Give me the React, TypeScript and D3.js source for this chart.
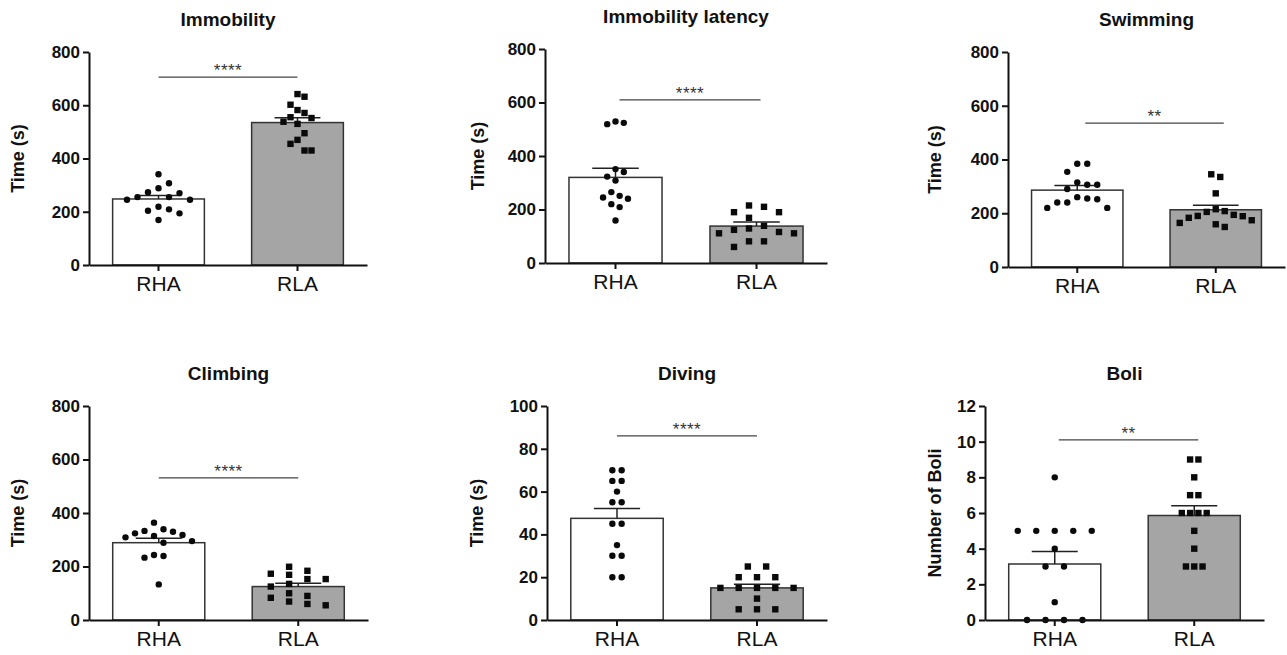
import * as d3 from 'd3';
import { useEffect, useRef } from 'react';

const groups = ['RHA', 'RLA'];

// individual animals
const immobilityRHA = [341, 307, 288, 273, 270, 255, 255, 245, 245, 219, 209, 204, 194, 169];
const immobilityRLA = [642, 632, 602, 582, 571, 555, 552, 538, 530, 495, 470, 455, 430, 430];
const latencyRHA = [529, 524, 519, 351, 340, 323, 308, 265, 251, 245, 240, 220, 209, 159];
const latencyRLA = [215, 210, 190, 190, 169, 139, 129, 124, 116, 111, 111, 81, 81, 60];
const swimmingRHA = [384, 384, 354, 315, 306, 306, 290, 260, 255, 252, 240, 240, 220, 220];
const swimmingRLA = [345, 335, 274, 215, 208, 205, 194, 190, 189, 183, 174, 164, 159, 149];
const climbingRHA = [364, 339, 333, 330, 324, 318, 314, 309, 295, 289, 243, 239, 233, 133];
const climbingRLA = [199, 184, 173, 169, 153, 153, 135, 125, 100, 90, 83, 69, 60, 55];
const divingRHA = [70, 70, 65, 65, 60, 55, 55, 45, 45, 35, 30, 30, 20, 20];
const divingRLA = [25, 25, 20, 20, 20, 15, 15, 15, 15, 15, 10, 5, 5, 5];
const boliRHA = [8, 5, 5, 5, 5, 5, 4, 3, 3, 1, 0, 0, 0, 0];
const boliRLA = [9, 9, 8, 7, 7, 6, 6, 6, 6, 5, 4, 3, 3, 3];

// bar heights (mean) and error bars (SEM), [RHA, RLA]
const immobilityMean = [248, 535];
const immobilitySem = [13, 18];
const latencyMean = [320, 138];
const latencySem = [34, 15];
const swimmingMean = [286, 213];
const swimmingSem = [17, 17];
const climbingMean = [289, 125];
const climbingSem = [17, 12];
const divingMean = [47.5, 15];
const divingSem = [4.6, 1.7];
const boliMean = [3.14, 5.86];
const boliSem = [0.7, 0.55];

const titles = ['Immobility', 'Immobility latency', 'Swimming', 'Climbing', 'Diving', 'Boli'];
const yLabels = ['Time (s)', 'Time (s)', 'Time (s)', 'Time (s)', 'Time (s)', 'Number of Boli'];
const yMaxes = [800, 800, 800, 800, 100, 12];
const yTicks = [
  [0, 200, 400, 600, 800],
  [0, 200, 400, 600, 800],
  [0, 200, 400, 600, 800],
  [0, 200, 400, 600, 800],
  [0, 20, 40, 60, 80, 100],
  [0, 2, 4, 6, 8, 10, 12]
];
const sigLevels = [706, 610, 535, 531, 86, 10.1];
const sigLabels = ['****', '****', '**', '****', '****', '**'];

const points = [
  [immobilityRHA, immobilityRLA],
  [latencyRHA, latencyRLA],
  [swimmingRHA, swimmingRLA],
  [climbingRHA, climbingRLA],
  [divingRHA, divingRLA],
  [boliRHA, boliRLA]
];
const means = [immobilityMean, latencyMean, swimmingMean, climbingMean, divingMean, boliMean];
const sems = [immobilitySem, latencySem, swimmingSem, climbingSem, divingSem, boliSem];

// where each panel sits on the page; spread = column spacing, gap = vertical clearance in a column
const layout = [
  { x: 89, w: 278, top: 52, bottom: 265, labelX: 18, spread: [10.5, 7], gap: [12, 12], sigShift: 0 },
  { x: 545, w: 282, top: 49, bottom: 263, labelX: 478, spread: [8.3, 15], gap: [10, 9], sigShift: 4 },
  { x: 1008, w: 277, top: 52, bottom: 267, labelX: 935, spread: [10, 9], gap: [13, 14], sigShift: 8 },
  { x: 89, w: 279, top: 406, bottom: 620, labelX: 18, spread: [9.5, 18.3], gap: [13, 8], sigShift: 0 },
  { x: 547, w: 280, top: 406, bottom: 620, labelX: 477, spread: [9.3, 18.3], gap: [6.4, 6.4], sigShift: 0 },
  { x: 985, w: 279, top: 406, bottom: 620, labelX: 935, spread: [18.5, 8.3], gap: [6.4, 6.4], sigShift: 4 }
];

const font = "'Liberation Sans', Arial, Helvetica, sans-serif";
const MARK = 6.4;

// GraphPad-like scatter: points close in y share a row, columns picked nearest the centre
function swarm(values: number[], y: d3.ScaleLinear<number, number>, spacing: number, gap: number) {
  const sorted = values.map((v) => ({ v, py: y(v) })).sort((a, b) => a.py - b.py);
  const out: { v: number; py: number; dx: number }[] = [];
  let row: { v: number; py: number }[] = [];
  const flush = () => {
    const placed: { v: number; py: number; col: number }[] = [];
    for (const p of row) {
      for (let k = 0; k < 50; k++) {
        const col = k === 0 ? 0 : k % 2 ? (k + 1) / 2 : -k / 2;
        if (!placed.some((q) => q.col === col && Math.abs(q.py - p.py) < gap)) {
          placed.push({ ...p, col });
          break;
        }
      }
    }
    const mid = ((d3.min(placed, (d) => d.col) as number) + (d3.max(placed, (d) => d.col) as number)) / 2;
    placed.forEach((d) => out.push({ v: d.v, py: d.py, dx: (d.col - mid) * spacing }));
    row = [];
  };
  sorted.forEach((p) => {
    if (row.length && p.py - row[row.length - 1].py >= gap) flush();
    row.push(p);
  });
  if (row.length) flush();
  return out;
}

export default function App() {
  const ref = useRef<SVGSVGElement>(null);

  useEffect(() => {
    const svg = d3.select(ref.current);
    svg.selectAll('*').remove();

    titles.forEach((title, i) => {
      const L = layout[i];
      const g = svg.append('g');

      const x = d3.scaleBand().domain(groups).range([L.x, L.x + L.w]).paddingInner(0.34).paddingOuter(0.17);
      const y = d3.scaleLinear().domain([0, yMaxes[i]]).range([L.bottom, L.top]);
      const cx = (k: string) => (x(k) as number) + x.bandwidth() / 2;

      // title
      g.append('text')
        .attr('x', L.x + L.w / 2)
        .attr('y', L.top - 26)
        .attr('text-anchor', 'middle')
        .style('font', `bold 19px ${font}`)
        .attr('fill', '#111')
        .text(title);

      // y label
      g.append('text')
        .attr('transform', `translate(${L.labelX},${(L.top + L.bottom) / 2}) rotate(-90)`)
        .attr('text-anchor', 'middle')
        .attr('dy', '0.35em')
        .style('font', `bold 18px ${font}`)
        .attr('fill', '#111')
        .text(yLabels[i]);

      // bars
      g.selectAll('.bar')
        .data(groups)
        .join('rect')
        .attr('class', 'bar')
        .attr('x', (d) => x(d) as number)
        .attr('width', x.bandwidth())
        .attr('y', (d, j) => y(means[i][j]))
        .attr('height', (d, j) => y(0) - y(means[i][j]))
        .attr('fill', (d, j) => (j === 0 ? '#ffffff' : '#a5a5a5'))
        .attr('stroke', '#333')
        .attr('stroke-width', 1.5);

      // SEM (upper only)
      groups.forEach((grp, j) => {
        const top = y(means[i][j] + sems[i][j]);
        const c = cx(grp);
        g.append('line')
          .attr('x1', c).attr('x2', c)
          .attr('y1', y(means[i][j])).attr('y2', top)
          .attr('stroke', '#222').attr('stroke-width', 1.5);
        g.append('line')
          .attr('x1', c - x.bandwidth() / 4).attr('x2', c + x.bandwidth() / 4)
          .attr('y1', top).attr('y2', top)
          .attr('stroke', '#222').attr('stroke-width', 1.5);
      });

      // individual points
      groups.forEach((grp, j) => {
        const pts = swarm(points[i][j], y, L.spread[j], L.gap[j]);
        const c = cx(grp);
        if (j === 0) {
          g.append('g')
            .selectAll('circle')
            .data(pts)
            .join('circle')
            .attr('cx', (d) => c + d.dx)
            .attr('cy', (d) => d.py)
            .attr('r', MARK / 2)
            .attr('fill', '#0a0a0a');
        } else {
          g.append('g')
            .selectAll('rect')
            .data(pts)
            .join('rect')
            .attr('x', (d) => c + d.dx - MARK / 2)
            .attr('y', (d) => d.py - MARK / 2)
            .attr('width', MARK)
            .attr('height', MARK)
            .attr('fill', '#0a0a0a');
        }
      });

      // significance bar
      const sy = y(sigLevels[i]);
      const sx1 = cx('RHA') + L.sigShift;
      const sx2 = cx('RLA') + L.sigShift;
      g.append('line')
        .attr('x1', sx1).attr('x2', sx2)
        .attr('y1', sy).attr('y2', sy)
        .attr('stroke', '#444').attr('stroke-width', 1.2);
      g.append('text')
        .attr('x', (sx1 + sx2) / 2)
        .attr('y', sy - 1)
        .attr('text-anchor', 'middle')
        .style('font', `17px ${font}`)
        .style('letter-spacing', '0.5px')
        .attr('fill', '#333')
        .text(sigLabels[i]);

      // axes
      const yAxis = g.append('g')
        .attr('transform', `translate(${L.x},0)`)
        .call(d3.axisLeft(y).tickValues(yTicks[i]).tickSize(6).tickSizeOuter(0).tickPadding(3));
      yAxis.selectAll('path, line').attr('stroke', '#111').attr('stroke-width', 2);
      yAxis.selectAll('text').style('font', `bold 17px ${font}`).attr('fill', '#111');

      const xAxis = g.append('g')
        .attr('transform', `translate(0,${L.bottom})`)
        .call(d3.axisBottom(x).tickSize(6).tickSizeOuter(0).tickPadding(5));
      xAxis.selectAll('path, line').attr('stroke', '#111').attr('stroke-width', 2);
      xAxis.selectAll('text').style('font', `21px ${font}`).attr('fill', '#111');
    });
  }, []);

  return (
    <svg
      ref={ref}
      width={1287}
      height={655}
      style={{ position: 'absolute', left: 0, top: 0, background: '#fff' }}
    />
  );
}
